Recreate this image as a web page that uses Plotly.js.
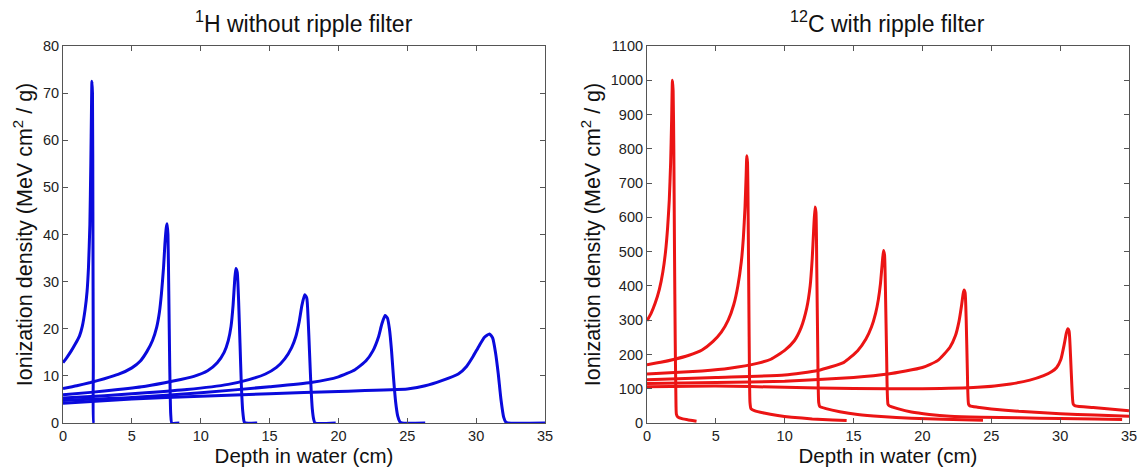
<!DOCTYPE html>
<html>
<head>
<meta charset="utf-8">
<script src="https://cdn.plot.ly/plotly-3.0.1.min.js"></script>
<style>html,body{margin:0;padding:0;background:#fff;}#chart{width:1141px;height:468px;}</style>
</head>
<body>
<div id="chart"></div>
<script>
// ---- 1H (protons), no ripple filter ----
const p1x = [0, 0.3, 0.6, 0.9, 1.2, 1.4, 1.6, 1.75, 1.85, 1.95, 2.02, 2.07, 2.1, 2.14, 2.17, 2.2, 2.23, 2.3];
const p1y = [12.8, 14.0, 15.3, 16.8, 18.5, 20.5, 24, 28, 33, 42, 55, 67, 72.5, 70, 45, 12, 0, 0];
const p2x = [0, 1, 2, 3, 4, 5, 5.6, 6.1, 6.5, 6.8, 7.0, 7.15, 7.3, 7.4, 7.5, 7.56, 7.62, 7.68, 7.75, 7.82, 7.9, 8.45];
const p2y = [7.3, 7.9, 8.6, 9.4, 10.3, 11.7, 13.1, 15.2, 17.5, 20.3, 23.5, 27.5, 33, 38, 41.5, 42.3, 40, 28, 12, 2, 0, 0];
const p3x = [0, 2, 4, 6, 8, 9.5, 10.5, 11.2, 11.7, 12.0, 12.2, 12.35, 12.47, 12.55, 12.65, 12.75, 12.85, 12.95, 13.05, 13.15, 13.25, 14.1];
const p3y = [6.0, 6.5, 7.1, 7.8, 8.9, 9.9, 11.1, 12.8, 15.0, 17.5, 20.5, 25, 30.5, 32.8, 32, 26, 17, 8, 2.5, 0.3, 0, 0];
const p4x = [0, 3, 6, 9, 12, 13.5, 14.7, 15.5, 16.1, 16.6, 16.9, 17.15, 17.35, 17.55, 17.7, 17.8, 17.9, 18.0, 18.1, 18.2, 18.3, 19.8];
const p4y = [5.3, 5.8, 6.4, 7.1, 8.2, 9.2, 10.4, 11.8, 13.6, 16.0, 18.3, 21.5, 25, 27.2, 26.5, 22, 15, 8, 3, 0.8, 0, 0];
const p5x = [0, 5, 10, 15, 18, 20, 21.2, 22.0, 22.5, 22.9, 23.15, 23.38, 23.55, 23.7, 23.85, 24.0, 24.15, 24.3, 24.45, 24.6, 26.3];
const p5y = [4.8, 5.4, 6.4, 7.7, 8.6, 9.8, 11.3, 13.2, 15.3, 18.2, 21, 22.8, 22.3, 20, 15.5, 9.5, 4.5, 1.5, 0.3, 0, 0];
const p6x = [0, 5, 10, 15, 20, 25, 26.3, 27.5, 28.7, 29.3, 29.75, 30.2, 30.6, 30.97, 31.2, 31.4, 31.6, 31.8, 32.0, 32.15, 32.3, 35];
const p6y = [4.2, 5.1, 5.7, 6.2, 6.7, 7.2, 7.9, 9.0, 10.4, 12.0, 14.0, 16.3, 18.2, 18.9, 18.0, 15, 10.5, 5, 1.2, 0.2, 0, 0];

// ---- 12C with ripple filter ----
const c1x = [0, 0.3, 0.6, 0.9, 1.15, 1.35, 1.5, 1.62, 1.72, 1.79, 1.85, 1.9, 1.95, 2.0, 2.05, 2.1, 2.14, 2.25, 2.6, 3.0, 3.3, 3.6];
const c1y = [298, 320, 350, 390, 440, 500, 570, 650, 760, 880, 1000, 970, 800, 500, 250, 80, 25, 17, 12, 9, 7, 5];
const c2x = [0, 1, 2, 3, 4, 4.8, 5.4, 5.9, 6.3, 6.6, 6.85, 7.0, 7.12, 7.2, 7.25, 7.3, 7.36, 7.42, 7.48, 7.55, 7.8, 8.5, 9.5, 10.5, 12, 13.5, 14.5];
const c2y = [170, 177, 186, 197, 213, 238, 265, 300, 345, 400, 470, 540, 630, 720, 780, 760, 550, 250, 60, 42, 36, 29, 22, 17, 12, 9, 7];
const c3x = [0, 2, 4, 6, 8, 9, 10, 10.7, 11.2, 11.6, 11.85, 12.0, 12.1, 12.2, 12.27, 12.33, 12.4, 12.47, 12.55, 13.0, 14, 15.3, 17, 19.2, 21.5, 24.4];
const c3y = [143, 147, 152, 160, 174, 186, 212, 240, 279, 335, 400, 480, 560, 630, 615, 450, 220, 60, 48, 42, 33, 25, 19, 14, 11, 8];
const c4x = [0, 5, 10, 12.4, 14.3, 15.3, 15.9, 16.3, 16.6, 16.8, 16.95, 17.07, 17.17, 17.25, 17.32, 17.4, 17.5, 17.6, 18.2, 19.2, 20.5, 22, 24.3, 27, 30, 32.5, 34.5];
const c4y = [126, 133, 140, 153, 177, 211, 245, 280, 320, 360, 405, 460, 503, 490, 380, 200, 55, 50, 42, 32, 25, 20, 17, 15, 13, 11.5, 10.5];
const c5x = [0, 5, 10, 15, 17.5, 20, 21.1, 22.0, 22.4, 22.65, 22.85, 22.95, 23.02, 23.1, 23.18, 23.26, 23.35, 23.45, 24, 25, 27, 30, 32.5, 35];
const c5y = [115, 118, 122, 133, 143, 162, 182, 221, 255, 295, 345, 375, 388, 380, 300, 160, 55, 50, 46, 41, 34, 27, 23, 20];
const c6x = [0, 5, 10, 15, 20, 24, 26.4, 27.8, 28.8, 29.4, 29.75, 30.05, 30.3, 30.45, 30.55, 30.65, 30.75, 30.85, 30.95, 31.1, 32.4, 35];
const c6y = [106, 108, 104, 101, 100, 104, 114, 125, 138, 150, 162, 185, 230, 262, 275, 268, 200, 110, 55, 50, 45, 36];

const protonX = [p1x, p2x, p3x, p4x, p5x, p6x];
const protonY = [p1y, p2y, p3y, p4y, p5y, p6y];
const carbonX = [c1x, c2x, c3x, c4x, c5x, c6x];
const carbonY = [c1y, c2y, c3y, c4y, c5y, c6y];

const xTicks = [0, 5, 10, 15, 20, 25, 30, 35];
const blue = 'rgb(10,10,220)';
const red = 'rgb(235,20,20)';

const traces = [];
protonX.forEach((xs, i) => traces.push({
  x: xs, y: protonY[i], type: 'scatter', mode: 'lines', xaxis: 'x', yaxis: 'y',
  line: {color: blue, width: 3, shape: 'spline', smoothing: 0.5}, showlegend: false, hoverinfo: 'skip'
}));
carbonX.forEach((xs, i) => traces.push({
  x: xs, y: carbonY[i], type: 'scatter', mode: 'lines', xaxis: 'x2', yaxis: 'y2',
  line: {color: red, width: 3, shape: 'spline', smoothing: 0.5}, showlegend: false, hoverinfo: 'skip'
}));

const font = {family: '"Liberation Sans", Arial, sans-serif', color: '#111'};
const axBase = {
  showline: true, mirror: 'ticks', linecolor: '#555', linewidth: 1,
  ticks: 'inside', ticklen: 5, tickcolor: '#555', tickwidth: 1,
  showgrid: false, zeroline: false,
  tickfont: {family: font.family, size: 14.5, color: '#222'}
};
const xTitle = {text: 'Depth in water (cm)', font: {family: font.family, size: 20.5, color: '#111'}, standoff: 2};
const yTitle = {text: 'Ionization density (MeV cm<sup>2</sup> / g)', font: {family: font.family, size: 21.5, color: '#111'}, standoff: 4};

const layout = {
  width: 1141, height: 468,
  margin: {l: 63, r: 12, t: 46, b: 45},
  paper_bgcolor: '#fff', plot_bgcolor: '#fff',
  font: font,
  showlegend: false,
  xaxis: Object.assign({}, axBase, {domain: [0, 0.4522], range: [0, 35], tickvals: xTicks, anchor: 'y', title: xTitle}),
  yaxis: Object.assign({}, axBase, {domain: [0, 1], range: [0, 80], dtick: 10, tick0: 0, anchor: 'x', title: yTitle}),
  xaxis2: Object.assign({}, axBase, {domain: [0.5478, 1], range: [0, 35], tickvals: xTicks, anchor: 'y2', title: xTitle}),
  yaxis2: Object.assign({}, axBase, {domain: [0, 1], range: [0, 1100], dtick: 100, tick0: 0, anchor: 'x2', title: yTitle}),
  annotations: [
    {text: '<sup>1</sup>H without ripple filter', xref: 'paper', yref: 'paper', x: 0.2261, y: 1, yshift: 7,
     xanchor: 'center', yanchor: 'bottom', showarrow: false, font: {family: font.family, size: 23, color: '#111'}},
    {text: '<sup>12</sup>C with ripple filter', xref: 'paper', yref: 'paper', x: 0.7739, y: 1, yshift: 7,
     xanchor: 'center', yanchor: 'bottom', showarrow: false, font: {family: font.family, size: 23, color: '#111'}}
  ]
};

Plotly.newPlot('chart', traces, layout, {displayModeBar: false, staticPlot: true});
</script>
</body>
</html>
